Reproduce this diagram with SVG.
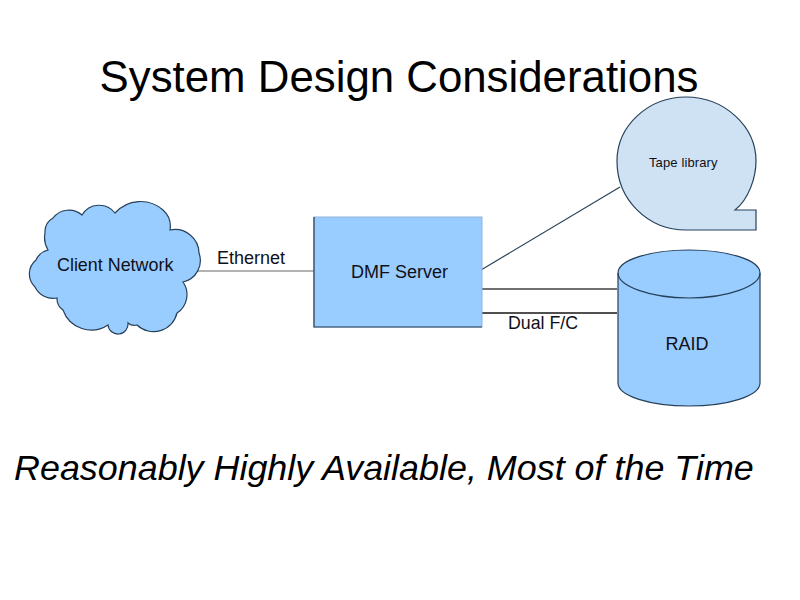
<svg xmlns="http://www.w3.org/2000/svg" width="800" height="600" viewBox="0 0 800 600">
<style>
text{font-family:"Liberation Sans",Arial,sans-serif;fill:#101018}
.s{stroke:#26405a;stroke-width:1.2}
.blue{fill:#99ccff}
.pale{fill:#cfe2f3}
</style>
<rect width="800" height="600" fill="#fff"/>
<text x="399" y="92" font-size="43.8" text-anchor="middle" style="fill:#000">System Design Considerations</text>
<g id="connectors" fill="none">
<line x1="197" y1="271" x2="314" y2="271" stroke="#666" stroke-width="1.2"/>
<line x1="481" y1="270" x2="620" y2="187" stroke="#2c4257" stroke-width="1.2"/>
<line x1="481" y1="289" x2="617" y2="289" stroke="#707070" stroke-width="2"/>
<line x1="481" y1="313" x2="617" y2="313" stroke="#505050" stroke-width="2"/>
</g>
<g id="client-network">
<path class="blue s" d="M48 250A24 24 0 0 1 45 233A16 16 0 0 1 53 218A20 20 0 0 1 82 215A20 20 0 0 1 115 213A34 34 0 0 1 163 210A22 22 0 0 1 170 230A24 24 0 0 1 199 253A22 22 0 0 1 183 282A22 22 0 0 1 177 313A24 24 0 0 1 137 325A10 10 0 0 1 128 323A10 10 0 0 1 108 325A30 30 0 0 1 63 310A14 14 0 0 1 57 298A20 20 0 0 1 35 287A18 18 0 0 1 36 260A18 18 0 0 1 48 250Z"/>
<text x="57" y="271" font-size="17.9">Client Network</text>
</g>
<text x="217" y="264" font-size="18">Ethernet</text>
<g id="dmf-server">
<rect class="blue" x="314" y="217" width="168" height="110" stroke="#8fb4d8" stroke-width="1"/>
<path d="M314 217V327H482" fill="none" stroke="#26405a" stroke-width="1.2"/>
<text x="351" y="278" font-size="18">DMF Server</text>
</g>
<text x="508" y="329" font-size="17.8">Dual F/C</text>
<g id="tape-library">
<path class="pale s" d="M686 230C648 230 617 200 617 161C617 126 648 97 686 97C724 97 756 126 756 161C756 177 749 199 735 210L756 210L756 230Z"/>
<text x="649" y="167" font-size="13" letter-spacing=".12">Tape library</text>
</g>
<g id="raid">
<path class="blue s" d="M618 273C618 260 650 250 689 250C728 250 760 260 760 273L760 383C760 396 728 406 689 406C650 406 618 396 618 383Z"/>
<path class="s" fill="none" d="M618 273C618 286 650 298 689 298C728 298 760 286 760 273"/>
<text x="687" y="350" font-size="18" text-anchor="middle">RAID</text>
</g>
<text x="14" y="480" font-size="35.9" font-style="italic" style="fill:#000">Reasonably Highly Available, Most of the Time</text>
</svg>
